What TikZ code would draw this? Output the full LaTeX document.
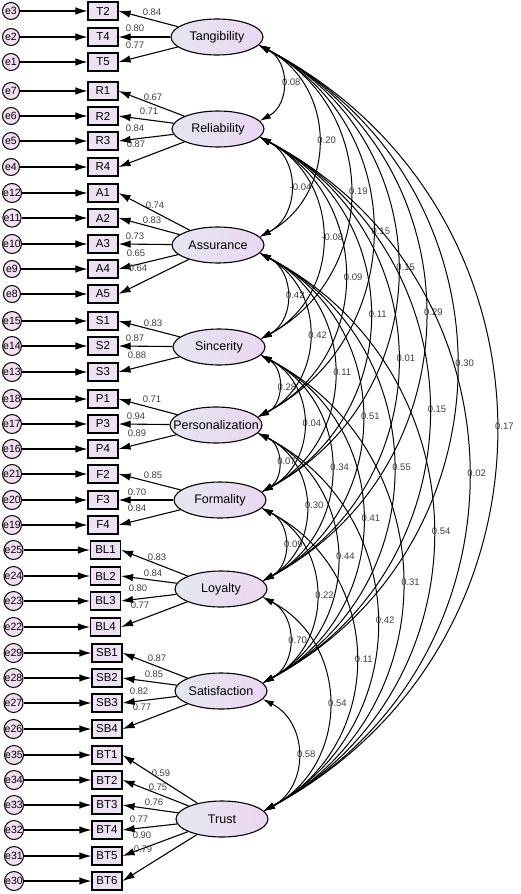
\documentclass[tikz,border=0pt]{standalone}
\usepackage{fontspec}
\setmainfont{Liberation Sans}
\usepackage{tikz}
\usetikzlibrary{positioning, calc, arrows.meta, shapes.geometric}

\definecolor{latleft}{RGB}{228,231,240}
\definecolor{latright}{RGB}{236,214,242}
\definecolor{obsfill}{RGB}{236,226,244}
\definecolor{errfill}{RGB}{242,224,242}
\newcommand{\latname}[1]{\makebox[0pt]{#1}}

\begin{document}
\begin{tikzpicture}[
  x=1pt, y=-1pt,
  every node/.style={font=\fontsize{11}{11}\selectfont},
  lat/.style={ellipse, draw, line width=1.1pt, minimum width=92pt, minimum height=36pt,
    inner sep=0pt, left color=latleft, right color=latright, font=\fontsize{12.5}{12.5}\selectfont},
  obs/.style={rectangle, draw, line width=1.1pt, fill=obsfill, minimum width=30pt,
    minimum height=18pt, inner sep=1.5pt, font=\fontsize{11.5}{11.5}\selectfont},
  err/.style={circle, draw, line width=1pt, fill=errfill, minimum size=17pt, inner sep=0pt,
    font=\fontsize{10.5}{10.5}\selectfont},
  ld/.style={-{Latex[length=12pt,width=7.5pt]}, line width=1.1pt},
  cv/.style={{Latex[length=11pt,width=6.5pt]}-{Latex[length=11pt,width=6.5pt]}, line width=1pt,
    bend left=62, looseness=1.18},
  num/.style={font=\fontsize{9.5}{9.5}\selectfont, text=black!75, inner sep=0pt},
]
\useasboundingbox (0,0) rectangle (520,894);

% Latent factors
\node[lat] (Tang) at (217,37)  {\latname{Tangibility}};
\node[lat] (Reli) at (218,129) {\latname{Reliability}};
\node[lat] (Assu) at (218,245) {\latname{Assurance}};
\node[lat] (Sinc) at (219,347) {\latname{Sincerity}};
\node[lat] (Pers) at (216,425) {\latname{Personalization}};
\node[lat] (Form) at (220,500) {\latname{Formality}};
\node[lat] (Loya) at (221,589) {\latname{Loyalty}};
\node[lat] (Sati) at (221,691) {\latname{Satisfaction}};
\node[lat] (Trus) at (222,819) {\latname{Trust}};

% Indicators with their error terms
\foreach \ind/\xx/\yy/\err/\ex in {
  T2/103/11/e3/11, T4/103/37/e2/11, T5/103/62/e1/11,
  R1/103/91/e7/11, R2/103/116/e6/11, R3/103/141/e5/11, R4/103/167/e4/11,
  A1/103/193/e12/12, A2/103/218/e11/12, A3/103/244/e10/12, A4/103/269/e9/12, A5/103/294/e8/12,
  S1/103/321/e15/12, S2/103/346/e14/12, S3/103/372/e13/12,
  P1/103/399/e18/12, P3/103/424/e17/12, P4/103/449/e16/12,
  F2/103/474/e21/12, F3/103/500/e20/12, F4/103/525/e19/12,
  BL1/105.5/550/e25/13.5, BL2/105.5/576/e24/13.5, BL3/105.5/601/e23/13.5, BL4/105.5/627/e22/13.5,
  SB1/107/653/e29/13.5, SB2/107/678/e28/13.5, SB3/107/703/e27/13.5, SB4/107/729/e26/13.5,
  BT1/107/755/e35/14, BT2/107/780/e34/14, BT3/107/805/e33/14,
  BT4/107/830/e32/14, BT5/107/856/e31/14, BT6/107/881/e30/14} {
  \node[obs] (\ind) at (\xx,\yy) {\ind};
  \node[err] (\err) at (\ex,\yy) {\err};
  \draw[ld] (\err) -- (\ind);
}

% Factor loadings
\foreach \fac/\ind/\lx/\ly/\val in {
  Tang/T2/152/12/0.84, Tang/T4/135/28/0.80, Tang/T5/135/45/0.77,
  Reli/R1/153/97/0.67, Reli/R2/149/111/0.71, Reli/R3/135/128/0.84, Reli/R4/136/144/0.87,
  Assu/A1/155/205/0.74, Assu/A2/152/220/0.83, Assu/A3/135/236/0.73, Assu/A4/136/253/0.65, Assu/A5/138/268/0.64,
  Sinc/S1/153/323/0.83, Sinc/S2/135/338/0.87, Sinc/S3/137/355/0.88,
  Pers/P1/152/399/0.71, Pers/P3/136/416/0.94, Pers/P4/137/433/0.89,
  Form/F2/153/475/0.85, Form/F3/137/492/0.70, Form/F4/137/508/0.84,
  Loya/BL1/157/557/0.83, Loya/BL2/153/573/0.84, Loya/BL3/138/588/0.80, Loya/BL4/140/605/0.77,
  Sati/SB1/157/658/0.87, Sati/SB2/154/674/0.85, Sati/SB3/139/691/0.82, Sati/SB4/142/707/0.77,
  Trus/BT1/161/773/0.59, Trus/BT2/158/787/0.75, Trus/BT3/154/802/0.76,
  Trus/BT4/139/819/0.77, Trus/BT5/142/835/0.90, Trus/BT6/143/849/0.79} {
  \draw[ld] (\fac) -- (\ind.east);
  \node[num] (l\ind) at (\lx,\ly) {\val};
}

% Correlations between factors
\foreach \a/\b/\v in {
  Tang/Reli/0.08, Tang/Assu/0.20, Tang/Sinc/0.19, Tang/Pers/0.15, Tang/Form/0.15,
  Tang/Loya/0.29, Tang/Sati/0.30, Tang/Trus/0.17,
  Reli/Assu/-0.04, Reli/Sinc/-0.08, Reli/Pers/0.09, Reli/Form/0.11, Reli/Loya/0.01,
  Reli/Sati/0.15, Reli/Trus/0.02,
  Assu/Sinc/0.42, Assu/Pers/0.42, Assu/Form/0.11, Assu/Loya/0.51, Assu/Sati/0.55, Assu/Trus/0.54,
  Sinc/Pers/0.28, Sinc/Form/0.04, Sinc/Loya/0.34, Sinc/Sati/0.41, Sinc/Trus/0.31,
  Pers/Form/0.07, Pers/Loya/0.30, Pers/Sati/0.44, Pers/Trus/0.42,
  Form/Loya/0.09, Form/Sati/0.22, Form/Trus/0.11,
  Loya/Sati/0.70, Loya/Trus/0.54,
  Sati/Trus/0.58} {
  \draw[cv] (\a.-11) to node[num, midway, anchor=west, xshift=-1pt] (c\a\b) {\v} (\b.11);
}
\end{tikzpicture}
\end{document}
